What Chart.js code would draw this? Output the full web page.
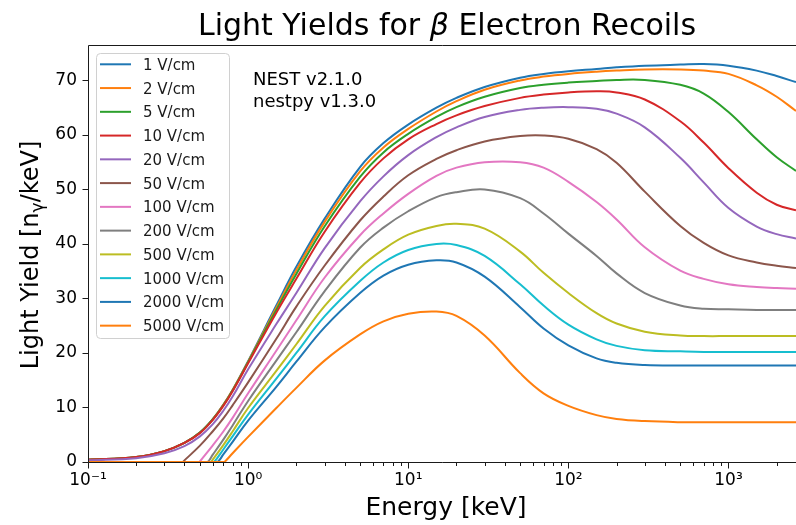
<!DOCTYPE html>
<html>
<head>
<meta charset="utf-8">
<script src="https://cdn.jsdelivr.net/npm/chart.js@4.4.1/dist/chart.umd.min.js"></script>
<style>
html,body{margin:0;padding:0;background:#fff;}
#wrap{width:796px;height:525px;position:relative;}
canvas{display:block;}
</style>
</head>
<body>
<div id="wrap"><canvas id="c" width="796" height="525"></canvas></div>
<script>
// ---------------- data ----------------
const energies = [0.1, 0.2, 0.3, 0.4, 0.5, 0.6, 0.7, 0.8, 1, 1.5, 2, 3, 5, 7, 10, 15, 20, 30, 50, 70, 100, 150, 200, 300, 500, 700, 1000, 1500, 2000, 2640];

const fieldLabels = ['1 V/cm', '2 V/cm', '5 V/cm', '10 V/cm', '20 V/cm', '50 V/cm', '100 V/cm', '200 V/cm', '500 V/cm', '1000 V/cm', '2000 V/cm', '5000 V/cm'];

const seriesColors = ['#1f77b4', '#ff7f0e', '#2ca02c', '#d62728', '#9467bd', '#8c564b', '#e377c2', '#7f7f7f', '#bcbd22', '#17becf', '#1f77b4', '#ff7f0e'];

// energy (keV) where a curve leaves zero (null: never zero in range)
const onsets = [null, null, null, null, null, 0.39, 0.497, 0.557, 0.585, 0.614, 0.644, 0.712];

const ly1    = [0.4, 0.9, 2.0, 3.5, 5.4, 7.8, 10.5, 13.2, 18.5, 28.7, 35.8, 44.6, 54.1, 58.5, 61.9, 65.0, 66.8, 68.8, 70.5, 71.2, 71.7, 72.1, 72.4, 72.7, 72.9, 73.0, 72.7, 71.8, 70.8, 69.7];
const ly2    = [0.4, 0.9, 2.0, 3.5, 5.4, 7.8, 10.5, 13.2, 18.4, 28.3, 35.2, 44.0, 53.3, 57.7, 61.1, 64.3, 66.2, 68.3, 70.0, 70.7, 71.2, 71.6, 71.8, 72.0, 72.0, 71.8, 71.2, 69.1, 67.0, 64.4];
const ly5    = [0.4, 0.9, 2.0, 3.5, 5.4, 7.8, 10.4, 13.1, 18.3, 27.9, 34.5, 43.2, 52.3, 56.8, 60.2, 63.3, 65.1, 67.0, 68.6, 69.2, 69.6, 69.9, 70.1, 70.1, 69.2, 67.6, 64.2, 59.2, 55.9, 53.4];
const ly10   = [0.4, 0.9, 2.0, 3.5, 5.3, 7.7, 10.3, 13.0, 18.1, 27.4, 33.6, 42.2, 51.2, 55.7, 59.2, 62.0, 63.6, 65.3, 66.8, 67.4, 67.8, 68.0, 67.8, 66.5, 62.5, 58.6, 53.9, 49.4, 47.2, 46.2];
const ly20   = [0.3, 0.7, 1.6, 2.9, 4.7, 6.9, 9.4, 12.0, 17.0, 25.3, 31.0, 39.2, 47.8, 52.4, 56.3, 59.6, 61.4, 63.3, 64.6, 65.0, 65.1, 64.8, 63.9, 61.4, 55.8, 51.3, 46.6, 43.2, 41.8, 41.0];
const ly50   = [0, 0, 0, 0.3, 3.0, 5.6, 8.0, 10.4, 14.6, 22.6, 28.5, 36.0, 44.3, 48.7, 52.6, 55.6, 57.2, 58.8, 59.8, 59.9, 59.3, 57.4, 54.9, 49.6, 43.3, 40.2, 37.9, 36.6, 36.0, 35.6];
const ly100  = [0, 0, 0, 0, 0.1, 3.0, 5.6, 8.1, 12.6, 20.4, 26.0, 33.8, 41.6, 45.6, 49.2, 52.5, 54.0, 55.0, 55.0, 54.0, 51.4, 47.7, 44.5, 39.4, 35.1, 33.6, 32.6, 32.1, 31.9, 31.8];
const ly200  = [0, 0, 0, 0, 0, 1.3, 4.1, 6.7, 11.2, 18.6, 23.8, 31.3, 39.3, 43.0, 46.0, 48.6, 49.5, 50.0, 48.4, 45.6, 41.9, 37.8, 34.6, 31.0, 28.7, 28.1, 28.0, 27.9, 27.9, 27.9];
const ly500  = [0, 0, 0, 0, 0, 0.4, 3.1, 5.6, 9.9, 16.7, 21.6, 28.6, 35.6, 39.0, 41.7, 43.3, 43.7, 42.8, 38.6, 34.7, 31.0, 27.3, 25.4, 23.9, 23.2, 23.1, 23.1, 23.1, 23.1, 23.1];
const ly1000 = [0, 0, 0, 0, 0, 0, 2.3, 4.7, 8.7, 15.3, 20.0, 26.7, 33.2, 36.6, 38.9, 40.0, 39.8, 37.8, 32.6, 28.7, 25.2, 22.5, 21.3, 20.5, 20.3, 20.2, 20.2, 20.2, 20.2, 20.2];
const ly2000 = [0, 0, 0, 0, 0, 0, 1.4, 3.7, 7.6, 13.8, 18.4, 24.7, 31.0, 34.2, 36.2, 37.0, 36.6, 34.0, 28.4, 24.5, 21.4, 19.0, 18.2, 17.8, 17.7, 17.7, 17.7, 17.7, 17.7, 17.7];
const ly5000 = [0, 0, 0, 0, 0, 0, 0, 1.6, 4.6, 9.9, 13.6, 18.6, 23.4, 25.8, 27.2, 27.6, 26.8, 23.2, 16.3, 12.6, 10.3, 8.6, 7.9, 7.5, 7.3, 7.3, 7.3, 7.3, 7.3, 7.3];

const seriesValues = [ly1, ly2, ly5, ly10, ly20, ly50, ly100, ly200, ly500, ly1000, ly2000, ly5000];

const xMin = 0.1, xMax = 2640;
const yMin = 0, yMax = 76.5;
const xTickValues = [0.1, 1, 10, 100, 1000];
const xTickLabels = ['10\u207B\u00B9', '10\u2070', '10\u00B9', '10\u00B2', '10\u00B3'];
const yTickValues = [0, 10, 20, 30, 40, 50, 60, 70];
const titleParts = ['Light Yields for ', '\u03B2', ' Electron Recoils'];
const xTitle = 'Energy [keV]';
const yTitleParts = ['Light Yield [n', '\u03B3', '/keV]'];
const annotationLines = ['NEST v2.1.0', 'nestpy v1.3.0'];

// ---------------- build datasets ----------------
function buildPoints(vals, onset) {
  const pts = [];
  energies.forEach((e, j) => {
    if (onset !== null && e > onset && (j === 0 || energies[j - 1] < onset)) {
      pts.push({ x: onset, y: 0 });
    }
    pts.push({ x: e, y: vals[j] });
  });
  return pts;
}

const datasets = seriesValues.map((vals, i) => ({
  label: fieldLabels[i],
  data: buildPoints(vals, onsets[i]),
  borderColor: seriesColors[i],
  backgroundColor: seriesColors[i],
  borderWidth: 2,
  pointRadius: 0,
  fill: false,
  tension: 0.4,
  order: seriesValues.length - i
}));

const FONT = '"DejaVu Sans", "Liberation Sans", sans-serif';

const decor = {
  id: 'decor',
  beforeDraw(chart) {
    const c = chart.ctx;
    c.save();
    c.fillStyle = '#ffffff';
    c.fillRect(0, 0, chart.width, chart.height);
    c.restore();
  },
  afterDatasetsDraw(chart) {
    const c = chart.ctx, a = chart.chartArea, x = chart.scales.x, y = chart.scales.y;
    const L = Math.round(a.left) + 0.5, B = Math.round(a.bottom) + 0.5, T = Math.round(a.top) + 0.5;
    c.save();
    c.strokeStyle = '#1a1a1a';
    c.lineWidth = 1;
    c.beginPath();
    c.moveTo(L, B); c.lineTo(L, T); c.lineTo(a.right, T);
    c.moveTo(L, B); c.lineTo(a.right, B);
    xTickValues.forEach(v => {
      const px = Math.round(x.getPixelForValue(v)) + 0.5;
      c.moveTo(px, B); c.lineTo(px, B + 6);
    });
    for (let d = -1; d <= 3; d++) {
      for (let m = 2; m <= 9; m++) {
        const v = m * Math.pow(10, d);
        if (v > xMax) break;
        const px = Math.round(x.getPixelForValue(v)) + 0.5;
        c.moveTo(px, B); c.lineTo(px, B + 3.5);
      }
    }
    yTickValues.forEach(v => {
      const py = Math.round(y.getPixelForValue(v)) + 0.5;
      c.moveTo(L, py); c.lineTo(L - 6, py);
    });
    c.stroke();
    c.restore();
  },
  afterDraw(chart) {
    const c = chart.ctx;
    c.save();
    // legend
    const lx = 96.5, ly = 53.5, lw = 133, lh = 285, r = 4;
    c.beginPath();
    c.moveTo(lx + r, ly);
    c.lineTo(lx + lw - r, ly); c.quadraticCurveTo(lx + lw, ly, lx + lw, ly + r);
    c.lineTo(lx + lw, ly + lh - r); c.quadraticCurveTo(lx + lw, ly + lh, lx + lw - r, ly + lh);
    c.lineTo(lx + r, ly + lh); c.quadraticCurveTo(lx, ly + lh, lx, ly + lh - r);
    c.lineTo(lx, ly + r); c.quadraticCurveTo(lx, ly, lx + r, ly);
    c.closePath();
    c.fillStyle = 'rgba(255,255,255,0.8)';
    c.fill();
    c.strokeStyle = '#d0d0d0';
    c.lineWidth = 1;
    c.stroke();
    c.font = '15px ' + FONT;
    c.textBaseline = 'alphabetic';
    c.textAlign = 'left';
    chart.data.datasets.forEach((ds, i) => {
      const cy = 64.3 + i * 23.76;
      c.strokeStyle = ds.borderColor;
      c.lineWidth = 2;
      c.beginPath();
      c.moveTo(100, cy); c.lineTo(131, cy);
      c.stroke();
      c.fillStyle = '#1a1a1a';
      c.fillText(ds.label, 143, cy + 5.5);
    });
    // annotation
    c.font = '18px ' + FONT;
    c.fillStyle = '#000';
    c.fillText(annotationLines[0], 253, 85);
    c.fillText(annotationLines[1], 253, 106.5);
    // title
    const fN = '30px ' + FONT, fI = 'italic 30px ' + FONT;
    c.font = fN; const w0 = c.measureText(titleParts[0]).width, w2 = c.measureText(titleParts[2]).width;
    c.font = fI; const w1 = c.measureText(titleParts[1]).width;
    let tx = 447 - (w0 + w1 + w2) / 2;
    c.font = fN; c.fillText(titleParts[0], tx, 35); tx += w0;
    c.font = fI; c.fillText(titleParts[1], tx, 35); tx += w1;
    c.font = fN; c.fillText(titleParts[2], tx, 35);
    // x title
    c.font = '25px ' + FONT;
    c.textAlign = 'center';
    c.fillText(xTitle, 446, 515);
    // y title
    c.textAlign = 'left';
    c.translate(38, 255);
    c.rotate(-Math.PI / 2);
    const fY = '24px ' + FONT, fS = '17px ' + FONT;
    c.font = fY; const a0 = c.measureText(yTitleParts[0]).width, a2 = c.measureText(yTitleParts[2]).width;
    c.font = fS; const a1 = c.measureText(yTitleParts[1]).width;
    let yx = -(a0 + a1 + a2) / 2;
    c.font = fY; c.fillText(yTitleParts[0], yx, 0); yx += a0;
    c.font = fS; c.fillText(yTitleParts[1], yx, 5); yx += a1;
    c.font = fY; c.fillText(yTitleParts[2], yx, 0);
    c.restore();
  }
};

new Chart(document.getElementById('c').getContext('2d'), {
  type: 'line',
  data: { datasets },
  options: {
    responsive: false,
    animation: false,
    devicePixelRatio: 1,
    layout: { padding: { top: 45, left: 0, right: 0, bottom: 0 } },
    plugins: { legend: { display: false }, tooltip: { enabled: false }, title: { display: false } },
    scales: {
      x: {
        type: 'logarithmic',
        min: xMin, max: xMax,
        grid: { display: false, drawTicks: false },
        border: { display: false },
        afterBuildTicks: s => { s.ticks = xTickValues.map(v => ({ value: v, major: true })); },
        afterFit: s => { s.height = 63; },
        ticks: {
          autoSkip: false, maxRotation: 0, minRotation: 0, padding: 8,
          color: '#000', font: { family: FONT, size: 17 },
          callback: (v, i) => xTickLabels[i]
        }
      },
      y: {
        type: 'linear',
        min: yMin, max: yMax,
        grid: { display: false, drawTicks: false },
        border: { display: false },
        afterBuildTicks: s => { s.ticks = yTickValues.map(v => ({ value: v })); },
        afterFit: s => { s.width = 88; },
        ticks: {
          padding: 11, color: '#000', font: { family: FONT, size: 17 },
          callback: v => String(v)
        }
      }
    }
  },
  plugins: [decor]
});
</script>
</body>
</html>
